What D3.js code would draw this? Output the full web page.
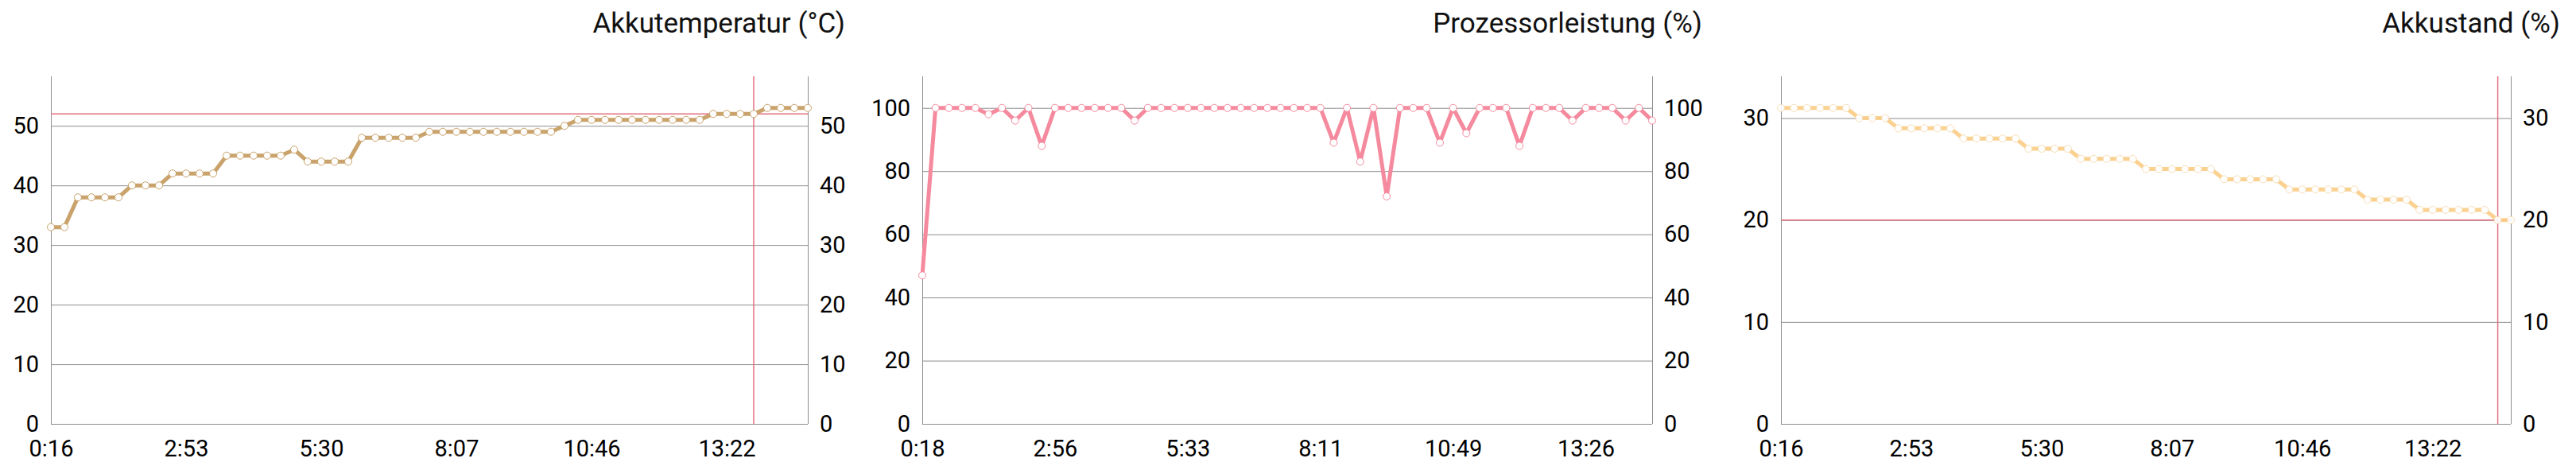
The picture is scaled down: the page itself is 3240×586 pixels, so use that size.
<!DOCTYPE html>
<html>
<head>
<meta charset="utf-8">
<script src="https://cdn.jsdelivr.net/npm/d3@7"></script>
<style>
  html, body { margin: 0; padding: 0; background: #fff; }
  svg { display: block; font-family: Roboto, "Noto Sans", sans-serif; }
</style>
</head>
<body>
<svg id="root" width="3240" height="586"></svg>
<script>
const titles = ["Akkutemperatur (°C)", "Prozessorleistung (%)", "Akkustand (%)"]

const tempTickLabels = ["0:16", "2:53", "5:30", "8:07", "10:46", "13:22"]
const cpuTickLabels = ["0:18", "2:56", "5:33", "8:11", "10:49", "13:26"]
const batteryTickLabels = ["0:16", "2:53", "5:30", "8:07", "10:46", "13:22"]

const tempValues = [33, 33, 38, 38, 38, 38, 40, 40, 40, 42, 42, 42, 42, 45, 45, 45, 45, 45, 46, 44,
  44, 44, 44, 48, 48, 48, 48, 48, 49, 49, 49, 49, 49, 49, 49, 49, 49, 49, 50, 51,
  51, 51, 51, 51, 51, 51, 51, 51, 51, 52, 52, 52, 52, 53, 53, 53, 53]

const cpuValues = [47, 100, 100, 100, 100, 98, 100, 96, 100, 88, 100, 100, 100, 100, 100, 100, 96, 100, 100, 100,
  100, 100, 100, 100, 100, 100, 100, 100, 100, 100, 100, 89, 100, 83, 100, 72, 100, 100, 100, 89,
  100, 92, 100, 100, 100, 88, 100, 100, 100, 96, 100, 100, 100, 96, 100, 96]

const batteryValues = [31, 31, 31, 31, 31, 31, 30, 30, 30, 29, 29, 29, 29, 29, 28, 28, 28, 28, 28, 27,
  27, 27, 27, 26, 26, 26, 26, 26, 25, 25, 25, 25, 25, 25, 24, 24, 24, 24, 24, 23,
  23, 23, 23, 23, 23, 22, 22, 22, 22, 21, 21, 21, 21, 21, 21, 20, 20]

const yTicksTemp = [0, 10, 20, 30, 40, 50]
const yTicksCpu = [0, 20, 40, 60, 80, 100]
const yTicksBattery = [0, 10, 20, 30]

// alarm thresholds: [value, index]
const tempAlarm = [52, 52]
const batteryAlarm = [20, 55]

class LineChart {
  constructor(root, opts) {
    this.root = root
    this.opts = opts
    this.g = d3.select(root).append("g")

    this.x = d3.scaleLinear()
      .domain([0, opts.values.length - 1])
      .range([opts.left, opts.right])

    this.y = d3.scaleLinear()
      .domain([0, d3.max(opts.values) * 1.1])
      .range([opts.bottom, opts.top])
  }

  draw() {
    const o = this.opts
    const g = this.g

    g.append("text")
      .attr("x", o.titleX)
      .attr("y", 41)
      .attr("text-anchor", "end")
      .attr("font-size", 35)
      .attr("fill", "#111")
      .text(o.title)

    // grid
    g.append("g").selectAll("line")
      .data(o.yTicks)
      .enter().append("line")
        .attr("x1", o.left)
        .attr("x2", o.right)
        .attr("y1", d => this.y(d) + 0.5)
        .attr("y2", d => this.y(d) + 0.5)
        .attr("stroke", "#8e8e8e")
        .attr("stroke-width", 1)

    const leftAxis = d3.axisLeft(this.y).tickValues(o.yTicks).tickSize(0).tickPadding(15)
    const rightAxis = d3.axisRight(this.y).tickValues(o.yTicks).tickSize(0).tickPadding(15)
    const bottomAxis = d3.axisBottom(this.x)
      .tickValues(o.xLabels.map((d, i) => i * 10))
      .tickFormat((d, i) => o.xLabels[i])
      .tickSize(0)
      .tickPadding(20)

    const styleAxis = sel => {
      sel.select(".domain").remove()
      sel.selectAll("text")
        .attr("font-size", 29)
        .attr("font-family", "Roboto, sans-serif")
        .attr("fill", "#000")
    }

    g.append("g").attr("transform", `translate(${o.left},0)`).call(leftAxis).call(styleAxis)
    g.append("g").attr("transform", `translate(${o.right},0)`).call(rightAxis).call(styleAxis)
    g.append("g").attr("transform", `translate(0,${o.bottom})`).call(bottomAxis).call(styleAxis)

    // frame sides
    g.append("line")
      .attr("x1", o.left + 0.5).attr("x2", o.left + 0.5)
      .attr("y1", o.top).attr("y2", o.bottom)
      .attr("stroke", "#8e8e8e")
    g.append("line")
      .attr("x1", o.right + 0.5).attr("x2", o.right + 0.5)
      .attr("y1", o.top).attr("y2", o.bottom)
      .attr("stroke", "#8e8e8e")

    if (o.alarm) {
      g.append("line")
        .attr("x1", o.left).attr("x2", o.right)
        .attr("y1", this.y(o.alarm[0])).attr("y2", this.y(o.alarm[0]))
        .attr("stroke", "#e3707e")
        .attr("stroke-width", 1.5)
      g.append("line")
        .attr("x1", this.x(o.alarm[1])).attr("x2", this.x(o.alarm[1]))
        .attr("y1", o.top).attr("y2", o.bottom)
        .attr("stroke", "#e3707e")
        .attr("stroke-width", 1.5)
    }

    const line = d3.line()
      .x((d, i) => this.x(i))
      .y(d => this.y(d))

    const series = g.append("g").attr("opacity", o.opacity || 1)

    series.append("path")
      .datum(o.values)
      .attr("d", line)
      .attr("fill", "none")
      .attr("stroke", o.color)
      .attr("stroke-width", 5)
      .attr("stroke-linejoin", "round")

    series.selectAll("circle")
      .data(o.values)
      .enter().append("circle")
        .attr("cx", (d, i) => this.x(i))
        .attr("cy", d => this.y(d))
        .attr("r", 4.5)
        .attr("fill", "#fff")
        .attr("stroke", o.pointStroke || o.color)
        .attr("stroke-width", 1)
  }
}

const root = document.getElementById("root")

new LineChart(root, {
  title: titles[0], titleX: 1063,
  values: tempValues, xLabels: tempTickLabels, yTicks: yTicksTemp,
  left: 64, right: 1016, top: 96, bottom: 533,
  color: "#c9a36b", alarm: tempAlarm
}).draw()

new LineChart(root, {
  title: titles[1], titleX: 2141,
  values: cpuValues, xLabels: cpuTickLabels, yTicks: yTicksCpu,
  left: 1160, right: 2078, top: 96, bottom: 533,
  color: "#f5899d"
}).draw()

new LineChart(root, {
  title: titles[2], titleX: 3220,
  values: batteryValues, xLabels: batteryTickLabels, yTicks: yTicksBattery,
  left: 2240, right: 3158, top: 96, bottom: 533,
  color: "#fbcd85", pointStroke: "#f7dcb0", opacity: 0.9, alarm: batteryAlarm
}).draw()
</script>
</body>
</html>
